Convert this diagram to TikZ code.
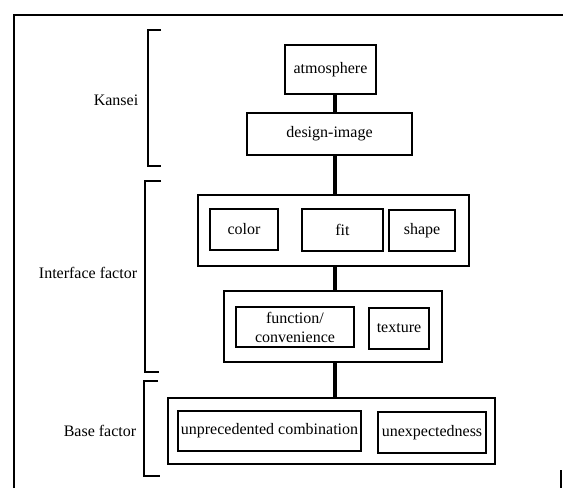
\documentclass[tikz,border=0pt]{standalone}
\usepackage{fontspec}
\setmainfont{Liberation Serif}
\begin{document}
\begin{tikzpicture}[x=1pt,y=-1pt,
  box/.style={draw,line width=1.2pt,inner sep=0pt,font=\fontsize{16}{17}\selectfont},
  grp/.style={draw,line width=1.4pt,inner sep=0pt},
  lbl/.style={font=\fontsize{16}{17}\selectfont},
  brk/.style={line width=1.2pt},
  link/.style={line width=4.2pt}]
\useasboundingbox (0,0) rectangle (563,488);
% frame
\draw[line width=1.3pt] (14,488) -- (14,15) -- (563,15);
\draw[line width=1.2pt] (561,470) -- (561,488);
% brackets
\draw[brk] (161,30) -- (148,30) -- (148,166) -- (161,166);
\draw[brk] (161,181) -- (145,181) -- (145,372) -- (159,372);
\draw[brk] (158,381) -- (144,381) -- (144,476) -- (160,476);
\node[lbl] (kansei) at (116,100) {Kansei};
\node[lbl] (iface) at (88,273) {Interface factor};
\node[lbl] (base) at (100,431) {Base factor};
% nodes
\node[box,minimum width=91pt,minimum height=49pt] (atm) at (330.5,69.5) {atmosphere};
\node[box,minimum width=165pt,minimum height=42pt] (di) at (329.5,134) {design-image};
\node[grp,minimum width=271pt,minimum height=71pt] (g1) at (333.5,230.5) {};
\node[box,minimum width=68pt,minimum height=41pt] (color) at (244,229.5) {color};
\node[box,minimum width=81pt,minimum height=42pt] (fit) at (342.5,230) {fit};
\node[box,minimum width=66pt,minimum height=41pt] (shape) at (422,230.5) {shape};
\node[grp,minimum width=218pt,minimum height=71pt] (g2) at (333,326.5) {};
\node[box,minimum width=118pt,minimum height=40pt,align=center,font=\fontsize{16}{19}\selectfont] (fc) at (295,327) {function/\\convenience};
\node[box,minimum width=60pt,minimum height=41pt] (tex) at (399,328.5) {texture};
\node[grp,minimum width=327pt,minimum height=66pt] (g3) at (331.5,431) {};
\node[box,minimum width=183pt,minimum height=40pt] (uc) at (269.5,431) {unprecedented combination};
\node[box,minimum width=108pt,minimum height=41pt] (ue) at (432,432.5) {unexpectedness};
% links
\draw[link] (atm.south -| 335,0) -- (di.north -| 335,0);
\draw[link] (di.south -| 335,0) -- (g1.north -| 335,0);
\draw[link] (g1.south -| 335,0) -- (g2.north -| 335,0);
\draw[link] (g2.south -| 335,0) -- (g3.north -| 335,0);
\end{tikzpicture}
\end{document}
